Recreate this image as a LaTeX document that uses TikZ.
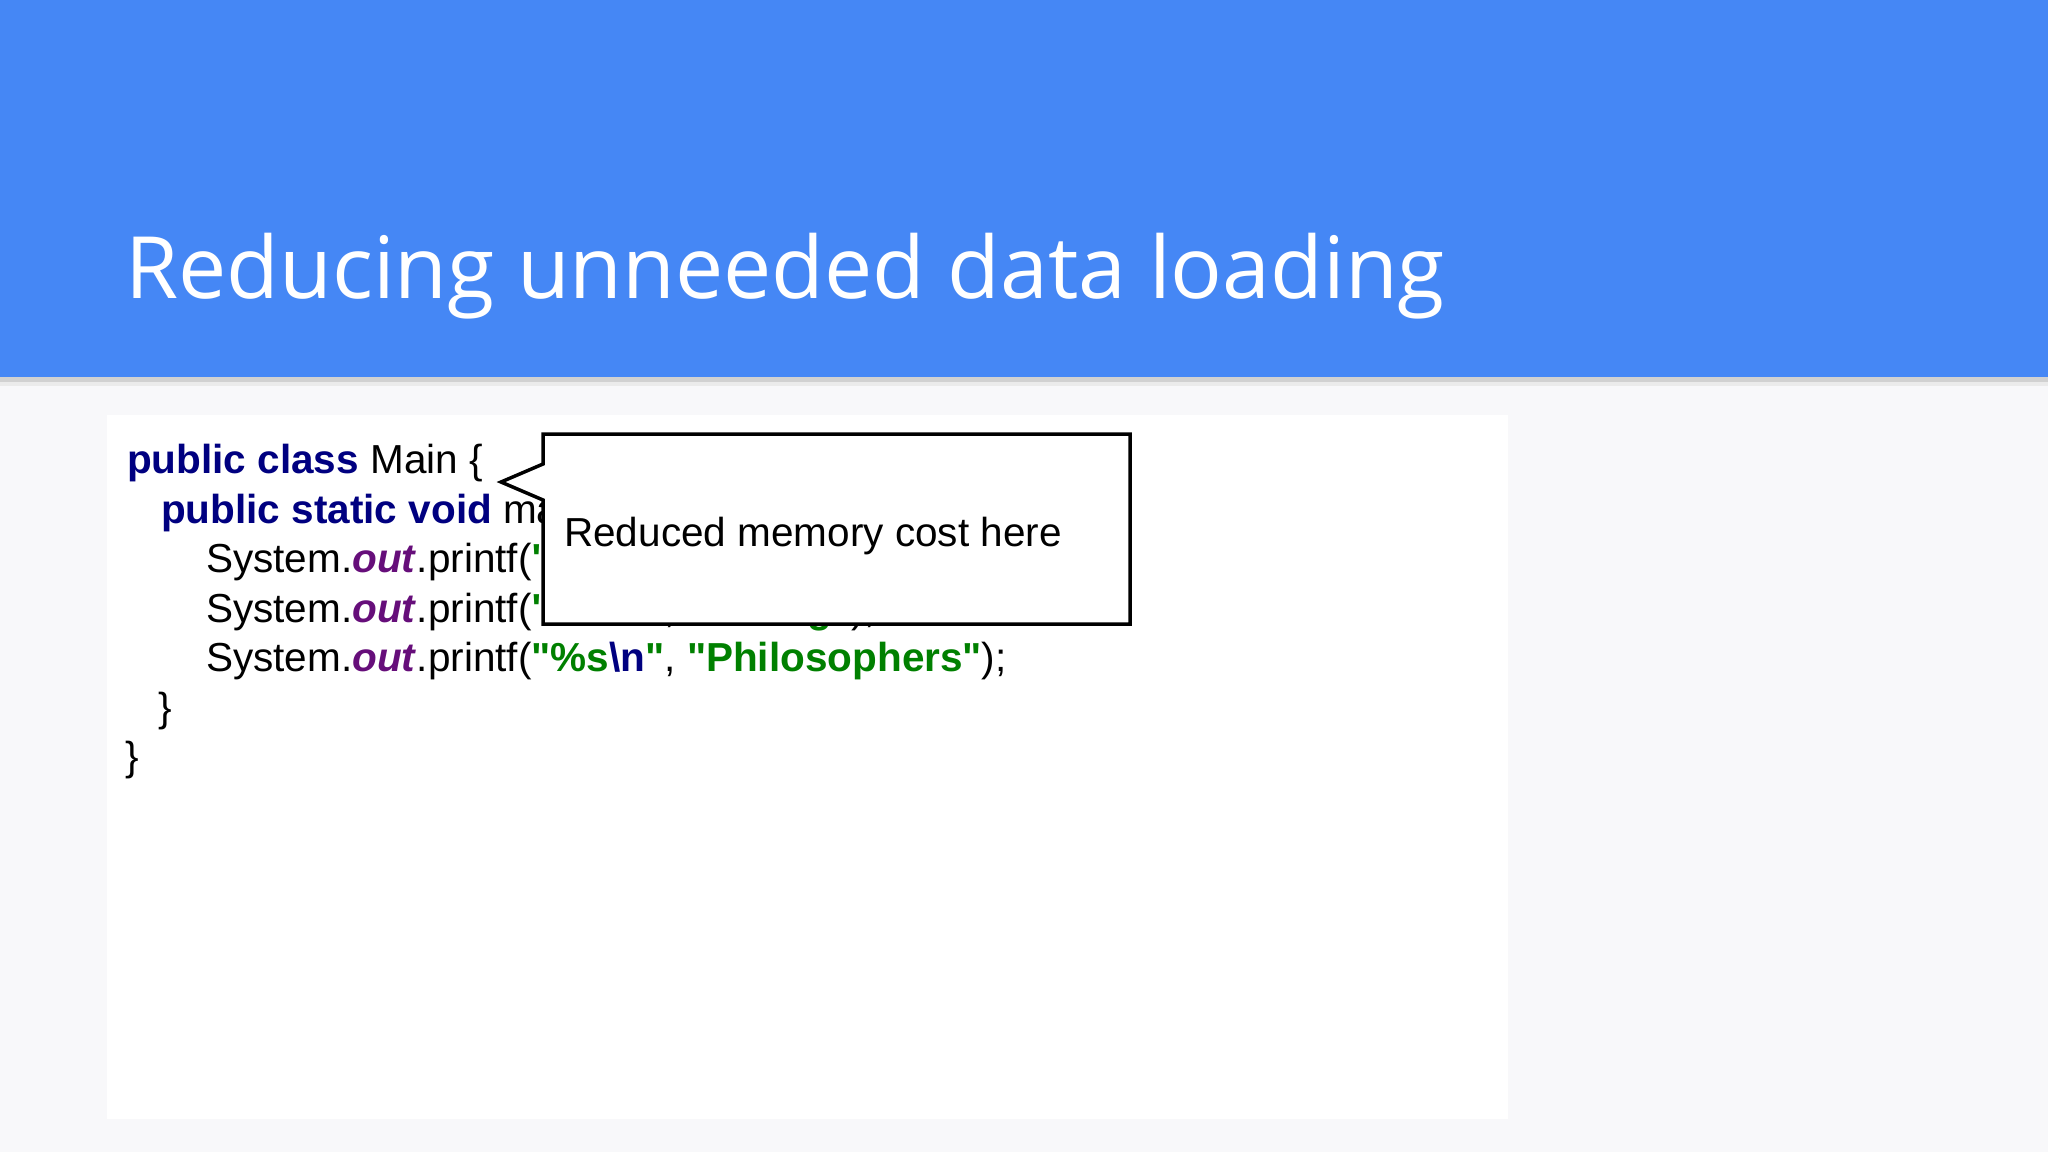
\documentclass[tikz,border=0pt]{standalone}
\usepackage{fontspec}
\setmainfont{Liberation Sans}[Ligatures=TeXOff]
\newfontfamily\titlefont{Open Sans}
\definecolor{hdr}{HTML}{4587F5}
\definecolor{bgc}{HTML}{F8F8FA}
\definecolor{kw}{HTML}{000080}
\definecolor{fld}{HTML}{660E7A}
\definecolor{str}{HTML}{008000}
\tikzset{code/.style={anchor=base west,inner sep=0pt,font=\fontsize{40.5}{50}\selectfont},
 callout/.style={draw=black,line width=3.5pt,fill=white,line join=miter}}
\newcommand{\kwd}[1]{\textcolor{kw}{\textbf{#1}}}
\newcommand{\fldo}{\textcolor{fld}{\textbf{\textit{out}}}}
\newcommand{\strg}[1]{\textcolor{str}{\textbf{#1}}}
\newcommand{\qq}{\char"22\relax}
\begin{document}
\begin{tikzpicture}[x=1pt,y=-1pt]
\useasboundingbox (0,0) rectangle (2048,1152);
\fill[bgc] (0,0) rectangle (2048,1152);
\fill[white] (107,415) rectangle (1508,1119);
\fill[black!18] (0,376) rectangle (2048,382);
\fill[black!8] (0,382) rectangle (2048,386);
\fill[hdr] (0,0) rectangle (2048,377);
\node[anchor=base west,inner sep=0pt,text=white,font=\titlefont\fontsize{86}{100}\selectfont] (title) at (125,298) {Reducing unneeded data loading};
\node[code] (l1) at (127,473) {\kwd{public class} Main \{};
\node[code] (l2) at (161,523) {\kwd{public static void} main(String[] args) \{};
\node[code] (l3) at (206,572) {System.\fldo.printf(\strg{\qq\%s}\textcolor{kw}{\textbf{\textbackslash n}}\strg{\qq}, \strg{\qq Hello\qq});};
\node[code] (l4) at (206,622) {System.\fldo.printf(\strg{\qq\%s}\textcolor{kw}{\textbf{\textbackslash n}}\strg{\qq}, \strg{\qq Dining\qq});};
\node[code] (l5) at (206,671) {System.\fldo.printf(\strg{\qq\%s}\textcolor{kw}{\textbf{\textbackslash n}}\strg{\qq}, \strg{\qq Philosophers\qq});};
\node[code] (l6) at (158,721) {\}};
\node[code] (l7) at (125,770) {\}};
\draw[callout] (543,434) -- (1130,434) -- (1130,624) -- (543,624) -- (543,500) -- (501,482) -- (543,464) -- cycle;
\node[code] (ct) at (564,546) {Reduced memory cost here};
\end{tikzpicture}
\end{document}
